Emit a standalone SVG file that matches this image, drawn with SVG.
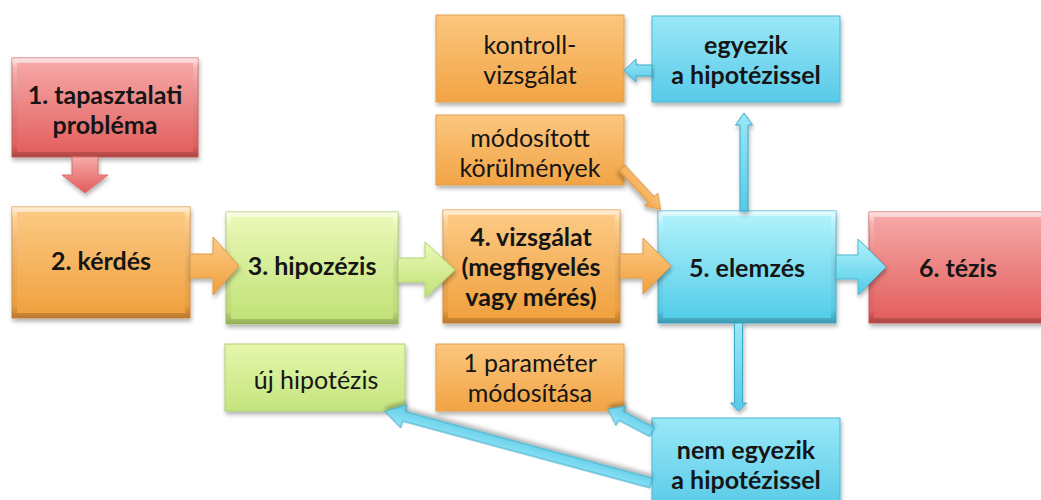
<svg xmlns="http://www.w3.org/2000/svg" width="1041" height="500" viewBox="0 0 1041 500">
<defs>
<linearGradient id="gRed" x1="0" y1="0" x2="0" y2="1"><stop offset="0" stop-color="#f6abaa"/><stop offset="1" stop-color="#e25c5a"/></linearGradient>
<linearGradient id="gOr" x1="0" y1="0" x2="0" y2="1"><stop offset="0" stop-color="#fccb86"/><stop offset="1" stop-color="#f09f3c"/></linearGradient>
<linearGradient id="gGr" x1="0" y1="0" x2="0" y2="1"><stop offset="0" stop-color="#ecf9b8"/><stop offset="1" stop-color="#bfe175"/></linearGradient>
<linearGradient id="gCy" x1="0" y1="0" x2="0" y2="1"><stop offset="0" stop-color="#b4f3fc"/><stop offset="1" stop-color="#50cbe8"/></linearGradient>
<linearGradient id="sOr" x1="0" y1="0" x2="0" y2="1"><stop offset="0" stop-color="#fbc67e"/><stop offset="1" stop-color="#f2a445"/></linearGradient>
<linearGradient id="sGr" x1="0" y1="0" x2="0" y2="1"><stop offset="0" stop-color="#e6f6ab"/><stop offset="1" stop-color="#c4e47e"/></linearGradient>
<linearGradient id="sCy" x1="0" y1="0" x2="0" y2="1"><stop offset="0" stop-color="#9ae8f8"/><stop offset="1" stop-color="#58cae7"/></linearGradient>
<linearGradient id="bev" x1="0" y1="0" x2="0" y2="1"><stop offset="0" stop-color="#fff" stop-opacity="0.6"/><stop offset="0.08" stop-color="#fff" stop-opacity="0.18"/><stop offset="0.9" stop-color="#000" stop-opacity="0.03"/><stop offset="1" stop-color="#000" stop-opacity="0.2"/></linearGradient>
<filter id="sh" x="-10%" y="-10%" width="120%" height="130%"><feDropShadow dx="1" dy="3" stdDeviation="2" flood-color="#000" flood-opacity="0.3"/></filter>
</defs>
<style>
.t{font-family:Lato,"Open Sans","Liberation Sans",sans-serif;font-size:25px;fill:#151515;text-anchor:middle}
.b{font-weight:700}
.bv{fill:none;stroke:url(#bev);stroke-width:5}
.big{filter:url(#sh)}
.sm{filter:url(#sh)}
.ar{stroke-width:1;filter:url(#sh)}
</style>
<rect width="1041" height="500" fill="#fff"/>

<g id="n1" class="big"><rect x="12" y="58" width="186" height="99" fill="url(#gRed)" stroke="#d0605e" stroke-width="1"/><rect class="bv" x="14.5" y="60.5" width="181" height="94"/></g>
<g id="n2" class="big"><rect x="12" y="207" width="178" height="111" fill="url(#gOr)" stroke="#d98f3a" stroke-width="1"/><rect class="bv" x="14.5" y="209.5" width="173" height="106"/></g>
<g id="n3" class="big"><rect x="226" y="212" width="172" height="112" fill="url(#gGr)" stroke="#a9c86a" stroke-width="1"/><rect class="bv" x="228.5" y="214.5" width="167" height="107"/></g>
<g id="n4" class="big"><rect x="443" y="210" width="177" height="113" fill="url(#gOr)" stroke="#d98f3a" stroke-width="1"/><rect class="bv" x="445.5" y="212.5" width="172" height="108"/></g>
<g id="n5" class="big"><rect x="658" y="211" width="178" height="112" fill="url(#gCy)" stroke="#47b3cf" stroke-width="1"/><rect class="bv" x="660.5" y="213.5" width="173" height="107"/></g>
<g id="n6" class="big"><rect x="869" y="212" width="180" height="111" fill="url(#gRed)" stroke="#d0605e" stroke-width="1"/><rect class="bv" x="871.5" y="214.5" width="175" height="106"/></g>

<g id="kontroll" class="sm"><rect x="436" y="15" width="188" height="87" fill="url(#sOr)" stroke="#e0a050" stroke-width="1"/></g>
<g id="egyezik" class="sm"><rect x="652" y="16" width="188" height="86" fill="url(#sCy)" stroke="#4cb8d4" stroke-width="1"/></g>
<g id="modositott" class="sm"><rect x="436" y="115" width="188" height="70" fill="url(#sOr)" stroke="#e0a050" stroke-width="1"/></g>
<g id="parameter" class="sm"><rect x="436" y="344" width="188" height="67" fill="url(#sOr)" stroke="#e0a050" stroke-width="1"/></g>
<g id="uj" class="sm"><rect x="225" y="344" width="180" height="67" fill="url(#sGr)" stroke="#b0d070" stroke-width="1"/></g>
<g id="nemegyezik" class="sm"><rect x="652" y="418" width="188" height="92" fill="url(#sCy)" stroke="#4cb8d4" stroke-width="1"/></g>

<g id="connectors">
<path class="ar" d="M72,157 V175 H62 L85,193 L108,175 H98 V157 Z" fill="url(#gRed)" stroke="#d87070"/>
<path class="ar" d="M190,254 H213 V237 L239,266 L213,295 V278 H190 Z" fill="url(#gOr)" stroke="#e09a48"/>
<path class="ar" d="M398,258 H425 V242 L455,270 L425,298 V282 H398 Z" fill="url(#gGr)" stroke="#b2d470"/>
<path class="ar" d="M620,254 H643 V238 L671,266 L643,294 V278 H620 Z" fill="url(#gOr)" stroke="#e09a48"/>
<path class="ar" d="M836,255 H858 V239 L886,267 L858,295 V279 H836 Z" fill="url(#gCy)" stroke="#48b8d4"/>
<path class="ar" d="M652,65 H636 V59 L624,70.5 L636,82 V76 H652 Z" fill="url(#sCy)" stroke="#3aa8c6"/>
<path class="ar" d="M740,211 V125 H735.5 L744,113 L752.5,125 H748 V211 Z" fill="url(#sCy)" stroke="#3aa8c6"/>
<path class="ar" d="M734.5,323 V403 H730.5 L738.5,411 L746.5,403 H742.5 V323 Z" fill="url(#sCy)" stroke="#3aa8c6"/>
<path class="ar" d="M0,-4 H43 V-9 L57,0 L43,9 V4 H0 Z" transform="translate(622,168) rotate(47.1)" fill="url(#sOr)" stroke="#d89040"/>
<path class="ar" d="M0,-5 H35 V-11 L49.6,0 L35,11 V5 H0 Z" transform="translate(652,432) rotate(207.6)" fill="url(#sCy)" stroke="#3aa8c6"/>
<path class="ar" d="M0,-5 H256 V-12 L275.6,0 L256,12 V5 H0 Z" transform="translate(651,483) rotate(195.1)" fill="url(#sCy)" stroke="#3aa8c6"/>
</g>

<g id="labels">
<text class="t b" x="105" y="104">1. tapasztalati</text>
<text class="t b" x="105" y="134">probléma</text>
<text class="t b" x="101" y="270">2. kérdés</text>
<text class="t b" x="312" y="275">3. hipozézis</text>
<text class="t b" x="531" y="246">4. vizsgálat</text>
<text class="t b" x="531" y="276">(megfigyelés</text>
<text class="t b" x="531" y="306">vagy mérés)</text>
<text class="t b" x="747" y="277">5. elemzés</text>
<text class="t b" x="958" y="277">6. tézis</text>
<text class="t" x="530" y="54">kontroll-</text>
<text class="t" x="530" y="84">vizsgálat</text>
<text class="t b" x="746" y="54">egyezik</text>
<text class="t b" x="746" y="84">a hipotézissel</text>
<text class="t" x="530" y="147">módosított</text>
<text class="t" x="530" y="177">körülmények</text>
<text class="t" x="530" y="372">1 paraméter</text>
<text class="t" x="530" y="402">módosítása</text>
<text class="t" x="316" y="389">új hipotézis</text>
<text class="t b" x="746" y="459">nem egyezik</text>
<text class="t b" x="746" y="489">a hipotézissel</text>
</g>
</svg>
